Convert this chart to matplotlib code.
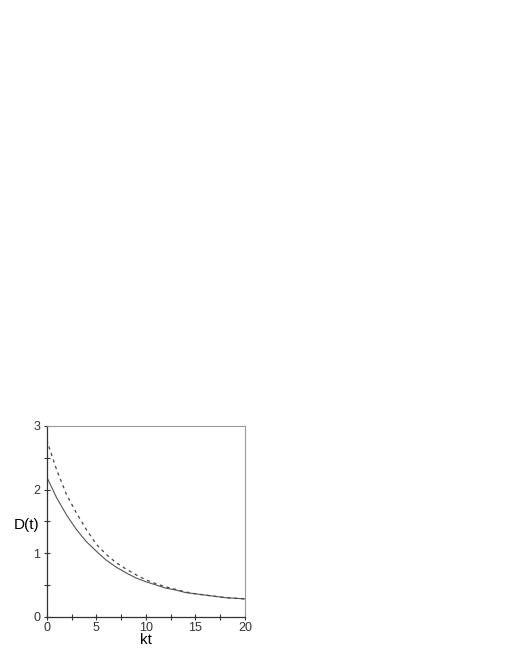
import matplotlib
matplotlib.use('Agg')
import matplotlib.pyplot as plt
from matplotlib.ticker import MultipleLocator

plt.rcParams['font.family'] = ['Liberation Sans', 'DejaVu Sans']

# data
kt = [0, 1, 2, 3, 4, 5, 6, 7, 8, 9, 10, 11, 12, 13, 14, 15, 16, 17, 18, 19, 20]
d_solid = [2.20, 1.87, 1.60, 1.37, 1.18, 1.03, 0.89, 0.78, 0.69, 0.61, 0.55,
           0.50, 0.45, 0.42, 0.38, 0.36, 0.34, 0.32, 0.30, 0.29, 0.28]
d_dashed = [2.78, 2.31, 1.92, 1.63, 1.37, 1.14, 0.98, 0.85, 0.75, 0.66, 0.58,
            0.52, 0.47, 0.43, 0.39, 0.36, 0.34, 0.32, 0.30, 0.29, 0.28]

fig = plt.figure(figsize=(5.1, 6.6), dpi=100)
ax = fig.add_axes([0.0916, 0.0656, 0.3888, 0.289])

ax.plot(kt, d_solid, color='#555555', lw=0.8)
ax.plot(kt, d_dashed, color='#444444', lw=0.9, dashes=(2.5, 3))

ax.set_xlim(0, 20)
ax.set_ylim(0, 3)
ax.xaxis.set_major_locator(MultipleLocator(5))
ax.xaxis.set_minor_locator(MultipleLocator(2.5))
ax.yaxis.set_major_locator(MultipleLocator(1))
ax.yaxis.set_minor_locator(MultipleLocator(0.5))
ax.tick_params(which='both', direction='inout', length=5, width=0.8,
               labelsize=9, pad=1, colors='#333333')
ax.tick_params(axis='y', pad=2)
ax.tick_params(top=False, right=False)

for s in ['left', 'bottom']:
    ax.spines[s].set_color('#333333')
    ax.spines[s].set_linewidth(0.9)
for s in ['top', 'right']:
    ax.spines[s].set_color('#999999')
    ax.spines[s].set_linewidth(0.8)

ax.set_xlabel('kt', fontsize=11, va='top')
ax.xaxis.set_label_coords(0.5, -0.088)
ax.set_ylabel('D(t)', fontsize=11, rotation=0, va='center', ha='center')
ax.yaxis.set_label_coords(-0.102, 0.48)

fig.savefig('out.png', dpi=100)
